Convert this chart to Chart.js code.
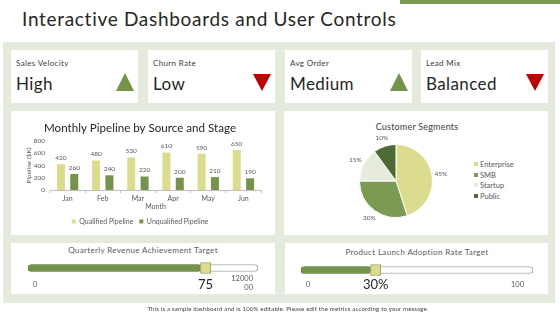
<!DOCTYPE html>
<html><head><meta charset="utf-8">
<script src="https://cdn.jsdelivr.net/npm/chart.js@4.4.1/dist/chart.umd.min.js"></script>
<style>
html,body{margin:0;padding:0;}
body{width:560px;height:315px;position:relative;overflow:hidden;background:#fff;font-family:Lato,"DejaVu Sans",sans-serif;color:#262626;}
.abs{position:absolute;}
#topbar{left:400px;top:0;width:160px;height:4px;background:#7a9a50;}
#title{left:22px;top:7px;font-size:19px;letter-spacing:0.7px;white-space:nowrap;line-height:24px;}
#panel{left:3px;top:42px;width:552px;height:261px;background:#e4eadc;}
.card{position:absolute;background:#fff;}
.kpi-label{position:absolute;left:5px;top:8px;font-size:8px;letter-spacing:0.35px;line-height:10px;color:#404040;white-space:nowrap;}
.kpi-value{position:absolute;left:5px;top:24px;font-size:17px;letter-spacing:0.4px;line-height:20px;color:#262626;white-space:nowrap;}
.tri{position:absolute;left:105px;top:23px;width:0;height:0;}
.up{border-left:9px solid transparent;border-right:9px solid transparent;border-bottom:18px solid #76934b;}
.down{border-left:9px solid transparent;border-right:9px solid transparent;border-top:17px solid #c00000;}
.ctitle{position:absolute;font-size:8px;letter-spacing:0.35px;line-height:10px;color:#595959;white-space:nowrap;transform:translateX(-50%);}
.small{position:absolute;font-size:7.5px;line-height:9px;color:#595959;white-space:nowrap;}
.big{position:absolute;font-size:13px;line-height:14px;color:#262626;white-space:nowrap;transform:translateX(-50%);}
#footer{left:0;width:576px;top:305px;text-align:center;font-size:6px;letter-spacing:0.2px;line-height:7px;color:#404040;}
canvas{position:absolute;}
.leg{position:absolute;font-size:7.5px;line-height:9px;color:#595959;white-space:nowrap;}
.leg i{display:inline-block;width:4px;height:4px;margin-right:2px;vertical-align:middle;position:relative;top:-1px;}
</style>
</head>
<body>
<div id="topbar" class="abs"></div>
<div id="title" class="abs">Interactive Dashboards and User Controls</div>
<div id="panel" class="abs"></div>
<div id="kpis"></div>
<div class="card" style="left:11px;top:111px;width:264px;height:124px;"></div>
<div class="card" style="left:284px;top:111px;width:264px;height:124px;"></div>
<div class="card" style="left:11px;top:243px;width:264px;height:51px;"></div>
<div class="card" style="left:285px;top:243px;width:263px;height:51px;"></div>
<canvas id="bar" width="264" height="124" style="left:11px;top:111px;width:264px;height:124px;"></canvas>
<div class="ctitle" style="left:417px;top:121px;font-size:9px;line-height:11px;color:#404040;letter-spacing:0.2px;">Customer Segments</div>
<canvas id="pie" width="140" height="110" style="left:326px;top:126px;width:140px;height:110px;"></canvas>
<div id="pieLegend"></div>
<div class="ctitle" style="left:143px;top:245px;">Quarterly Revenue Achievement Target</div>
<div class="ctitle" style="left:417px;top:247px;">Product Launch Adoption Rate Target</div>
<canvas id="s1" width="250" height="22" style="left:20px;top:257px;width:250px;height:22px;"></canvas>
<canvas id="s2" width="250" height="22" style="left:293px;top:259px;width:250px;height:22px;"></canvas>
<div id="sliderLabels"></div>
<div id="footer" class="abs">This is a sample dashboard and is 100% editable. Please edit the metrics according to your message.</div>
<script>
// ---------- data ----------
const kpiLabels = ["Sales Velocity", "Churn Rate", "Avg Order", "Lead Mix"];
const kpiValues = ["High", "Low", "Medium", "Balanced"];
const kpiTrends = ["up", "down", "up", "down"];

const months = ["Jan", "Feb", "Mar", "Apr", "May", "Jun"];
const qualified = [420, 480, 530, 610, 590, 650];
const unqualified = [260, 240, 220, 200, 210, 190];
const barSeriesNames = ["Qualified Pipeline", "Unqualified Pipeline"];
const yTicks = [0, 200, 400, 600, 800];

const segments = ["Enterprise", "SMB", "Startup", "Public"];
const segmentShares = [45, 30, 15, 10];

const sliderTitles = ["Quarterly Revenue Achievement Target", "Product Launch Adoption Rate Target"];
const sliderValues = [75, 30];
const sliderValueLabels = ["75", "30%"];
const sliderMinLabels = ["0", "0"];
const sliderMaxLabels = ["1200000", "100"];

// ---------- styles ----------
const FONT = 'Lato';
const cQual = '#dcdc8e', cUnq = '#76934b';
const pieColors = ['#dcdc8e', '#7b9a52', '#e6ebdd', '#4f6b35'];
const textGray = '#595959';

// KPI cards
const kpiX = [11, 148, 285, 421];
const kpis = document.getElementById('kpis');
kpiLabels.forEach((l, i) => {
  const c = document.createElement('div');
  c.className = 'card';
  c.style.cssText = `left:${kpiX[i]}px;top:50px;width:127px;height:53px;`;
  c.innerHTML = `<div class="kpi-label">${l}</div><div class="kpi-value">${kpiValues[i]}</div><div class="tri ${kpiTrends[i]}" style="top:${kpiTrends[i]==='up'?23:24}px"></div>`;
  kpis.appendChild(c);
});

// Bar chart
const valueLabels = {
  id: 'valueLabels',
  afterDatasetsDraw(chart) {
    const ctx = chart.ctx;
    ctx.save();
    ctx.font = `6.5px ${FONT}`;
    ctx.fillStyle = textGray;
    ctx.textAlign = 'center';
    ctx.textBaseline = 'bottom';
    chart.data.datasets.forEach((ds, di) => {
      chart.getDatasetMeta(di).data.forEach((el, i) => {
        ctx.fillText(String(ds.data[i]), el.x, el.y - 3);
      });
    });
    ctx.restore();
  }
};
new Chart(document.getElementById('bar'), {
  type: 'bar',
  data: {
    labels: months,
    datasets: [
      { label: barSeriesNames[0], data: qualified, backgroundColor: cQual },
      { label: barSeriesNames[1], data: unqualified, backgroundColor: cUnq }
    ]
  },
  options: {
    responsive: false, animation: false,
    categoryPercentage: 0.76, barPercentage: 0.6,
    layout: { padding: { left: 8, right: 14, top: 0, bottom: 0 } },
    plugins: {
      title: { display: true, text: 'Monthly Pipeline by Source and Stage', color: '#262626',
        font: { family: FONT, size: 11.6, weight: 'normal' }, padding: { top: 10, bottom: 6 } },
      legend: { position: 'bottom', labels: { boxWidth: 4, boxHeight: 4, padding: 6, color: textGray,
        font: { family: FONT, size: 7 } } },
      tooltip: { enabled: false }
    },
    scales: {
      x: {
        grid: { display: true, drawOnChartArea: false, tickLength: 3, color: '#bfbfbf' },
        border: { display: true, color: '#bfbfbf' },
        ticks: { color: textGray, font: { family: FONT, size: 7 }, padding: 2 },
        title: { display: true, text: 'Month', color: textGray, font: { family: FONT, size: 7, lineHeight: 1 }, padding: { top: 0, bottom: 2 } },
        afterFit(s) { s.height = 22; }
      },
      y: {
        min: 0, max: 800,
        afterBuildTicks(s) { s.ticks = yTicks.map(v => ({ value: v })); },
        grid: { display: false, tickLength: 2 },
        border: { display: false },
        ticks: { color: textGray, font: { family: FONT, size: 6.5 }, padding: 3 },
        title: { display: true, text: 'Pipeline ($K)', color: textGray, font: { family: FONT, size: 6.5 }, padding: { top: 6, bottom: 0 } },
        afterFit(s) { s.width = 31; }
      }
    }
  },
  plugins: [valueLabels]
});

// Pie chart
const pieLabels = {
  id: 'pieLabels',
  afterDatasetsDraw(chart) {
    const ctx = chart.ctx;
    ctx.save();
    ctx.font = `6.5px ${FONT}`;
    ctx.fillStyle = textGray;
    ctx.textAlign = 'center';
    ctx.textBaseline = 'middle';
    chart.getDatasetMeta(0).data.forEach((el, i) => {
      const mid = (el.startAngle + el.endAngle) / 2;
      const r = el.outerRadius + 9;
      ctx.fillText(segmentShares[i] + '%', el.x + Math.cos(mid) * r, el.y + Math.sin(mid) * r);
    });
    ctx.restore();
  }
};
new Chart(document.getElementById('pie'), {
  type: 'pie',
  data: { labels: segments, datasets: [{ data: segmentShares, backgroundColor: pieColors, borderColor: '#ffffff', borderWidth: 1 }] },
  options: {
    responsive: false, animation: false,
    layout: { padding: 18 },
    plugins: { legend: { display: false }, tooltip: { enabled: false } }
  },
  plugins: [pieLabels]
});
const pl = document.getElementById('pieLegend');
segments.forEach((s, i) => {
  const d = document.createElement('div');
  d.className = 'leg';
  d.style.left = '474px';
  d.style.top = (160 + i * 10.7) + 'px';
  d.innerHTML = `<i style="background:${pieColors[i]}"></i>${s}`;
  pl.appendChild(d);
});

// Sliders
const knobSpan = 4.4;
const sliderCanvases = ['s1', 's2'];
const sliderPads = [{ left: 8, right: 12 }, { left: 8, right: 10 }];
const sl = document.getElementById('sliderLabels');
sliderCanvases.forEach((id, i) => {
  const v = sliderValues[i];
  const cv = document.getElementById(id);
  const ch = new Chart(cv, {
    type: 'bar',
    data: {
      labels: [''],
      datasets: [
        { data: [[0, 100]], backgroundColor: '#ffffff', borderColor: '#a6a6a6', borderWidth: 1, borderRadius: 4, borderSkipped: false, barThickness: 7, grouped: false, order: 3 },
        { data: [[0, v]], backgroundColor: '#76934b', borderColor: '#6b8a44', borderWidth: 1, borderRadius: 4, borderSkipped: false, barThickness: 7, grouped: false, order: 2 },
        { data: [[v, v + knobSpan]], backgroundColor: '#dcdc8e', borderColor: '#9c9c68', borderWidth: 1, borderRadius: 0, borderSkipped: false, barThickness: 11, grouped: false, order: 1 }
      ]
    },
    options: {
      indexAxis: 'y', responsive: false, animation: false,
      layout: { padding: { left: sliderPads[i].left, right: sliderPads[i].right, top: 0, bottom: 0 } },
      plugins: { legend: { display: false }, tooltip: { enabled: false } },
      scales: { x: { display: false, min: 0, max: 100 }, y: { display: false } }
    }
  });
  const left = parseFloat(cv.style.left);
  const kx = ch.scales.x.getPixelForValue(v + knobSpan / 2) + left;
  const big = document.createElement('div');
  big.className = 'big';
  big.style.left = kx + 'px';
  big.style.top = '277px';
  big.textContent = sliderValueLabels[i];
  sl.appendChild(big);
  const mn = document.createElement('div');
  mn.className = 'small';
  mn.style.left = (ch.scales.x.getPixelForValue(0) + left + 5) + 'px';
  mn.style.top = '280px';
  mn.textContent = sliderMinLabels[i];
  sl.appendChild(mn);
  const mx = document.createElement('div');
  mx.className = 'small';
  if (i === 0) {
    mx.style.cssText += 'width:23px;word-break:break-all;white-space:normal;text-align:right;left:230px;top:274px;';
  } else {
    mx.style.cssText += 'left:' + (ch.scales.x.getPixelForValue(100) + left - 22) + 'px;top:280px;';
  }
  mx.textContent = sliderMaxLabels[i];
  sl.appendChild(mx);
});
</script>
</body></html>
